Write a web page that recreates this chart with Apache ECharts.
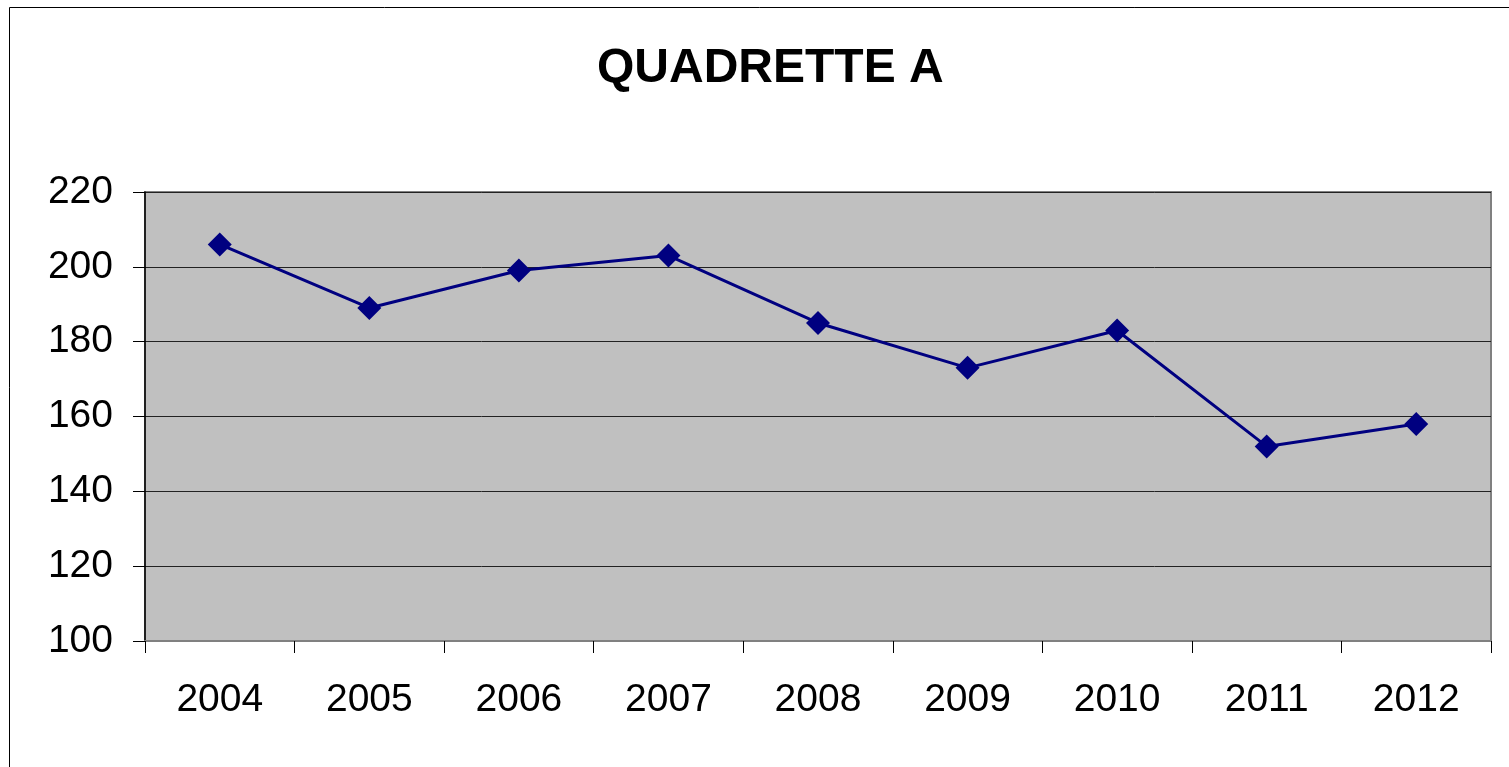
<!DOCTYPE html>
<html>
<head>
<meta charset="utf-8">
<title>QUADRETTE A</title>
<script src="https://cdn.jsdelivr.net/npm/echarts@6/dist/echarts.min.js"></script>
<style>
  html, body { margin: 0; padding: 0; background: #fff; overflow: hidden; }
  #chart { width: 1509px; height: 767px; }
</style>
</head>
<body>
<div id="chart"></div>
<script>
const years = ['2004', '2005', '2006', '2007', '2008', '2009', '2010', '2011', '2012']
const values = [206, 189, 199, 203, 185, 173, 183, 152, 158]
const yMin = 100
const yMax = 220
const yStep = 20

const chart = echarts.init(document.getElementById('chart'))
const font = 'Liberation Sans, Arial, sans-serif'

const option = {
  animation: false,
  backgroundColor: '#fff',
  title: {
    text: 'QUADRETTE A',
    left: 597,
    top: 45,
    padding: 0,
    textStyle: {
      fontFamily: font,
      fontSize: 48,
      fontWeight: 'bold',
      color: '#000'
    }
  },
  graphic: [{
    type: 'rect',
    shape: { x: 9.5, y: 7.5, width: 1520, height: 780 },
    style: { fill: 'none', stroke: '#000', lineWidth: 1 },
    silent: true
  }],
  grid: {
    left: 145,
    top: 192,
    right: 18,
    bottom: 126,
    show: true,
    backgroundColor: '#c0c0c0',
    borderColor: '#808080',
    borderWidth: 2
  },
  xAxis: {
    type: 'category',
    data: years,
    boundaryGap: true,
    axisLine: { lineStyle: { color: '#808080', width: 2 } },
    axisTick: { show: true, length: 12, lineStyle: { color: '#000', width: 1 } },
    axisLabel: {
      fontFamily: font,
      fontSize: 39,
      color: '#000',
      margin: 40
    },
    splitLine: { show: false }
  },
  yAxis: {
    type: 'value',
    min: yMin,
    max: yMax,
    interval: yStep,
    axisLine: { show: true, lineStyle: { color: '#000', width: 1.5 } },
    axisTick: { show: true, length: 12, lineStyle: { color: '#000', width: 1 } },
    axisLabel: {
      fontFamily: font,
      fontSize: 39,
      color: '#000',
      margin: 32
    },
    splitLine: { show: true, lineStyle: { color: '#222', width: 1 } }
  },
  series: [{
    type: 'line',
    data: values,
    symbol: 'diamond',
    symbolSize: 24,
    itemStyle: { color: '#000080' },
    lineStyle: { color: '#000080', width: 3 }
  }]
}

chart.setOption(option)
</script>
</body>
</html>
